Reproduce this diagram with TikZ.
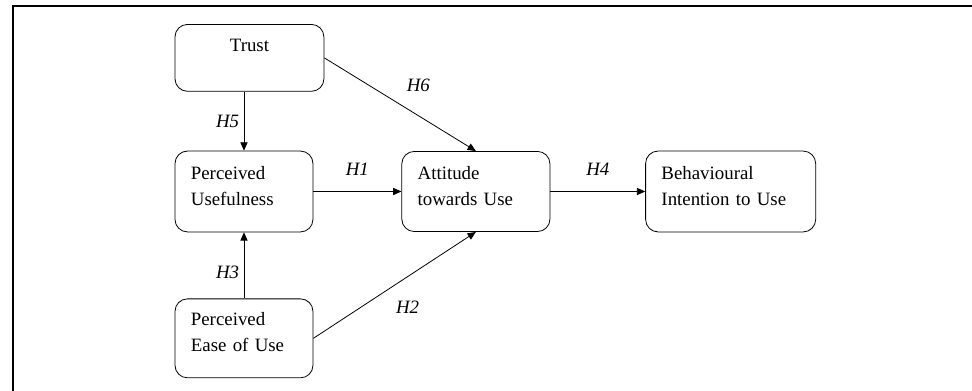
\documentclass[tikz,border=0pt]{standalone}
\usepackage{fontspec}
\setmainfont{Liberation Serif}
\usetikzlibrary{arrows.meta,positioning}

\begin{document}
\begin{tikzpicture}[
    every node/.style={font=\fontsize{14.2}{19.5}\selectfont},
    box/.style={draw, rounded corners=0.33cm, align=left, inner xsep=0.42cm, text depth=1.0cm, line width=0.6pt},
    hyp/.style={font=\fontsize{14.2}{19.5}\selectfont\itshape},
    flow/.style={-{Triangle[length=2.2mm, width=1.9mm]}, line width=0.6pt}
]
\useasboundingbox (0,0) rectangle (25.72,-10.345);
\draw[line width=1.5pt] (0.344,-10.345) |- (25.72,-0.159);

\node[box, text width=2.81cm, minimum height=2.14cm] (pu) at (6.456,-5.067) {Perceived\\Usefulness};
\node[box, align=center, text depth=, text width=3.10cm, minimum height=1.77cm, above=1.56cm of pu.north west, anchor=south west] (trust) {Trust\\\mbox{}};
\node[box, text width=2.81cm, minimum height=2.09cm, below=1.75cm of pu.south west, anchor=north west] (peou) {Perceived\\Ease of Use};
\node[box, text width=3.08cm, minimum height=2.12cm, right=2.33cm of pu] (atu) {Attitude\\towards Use};
\node[box, text width=3.66cm, minimum height=2.14cm, right=2.51cm of atu] (biu) {Behavioural\\Intention to Use};

\draw[flow] (trust.south -| pu.north) -- node[hyp, left] {H5} (pu.north);
\draw[flow] (trust.east) -- node[hyp, pos=0.62, above=0.5cm] {H6} (atu.north);
\draw[flow] (pu) -- node[hyp, above=0.3cm] {H1} (atu);
\draw[flow] (atu) -- node[hyp, above=0.3cm] {H4} (biu);
\draw[flow] (peou.north) -- node[hyp, pos=0.4, left] {H3} (pu.south);
\draw[flow] (peou.east) -- node[hyp, pos=0.58, below=0.53cm] {H2} (atu.south);
\end{tikzpicture}
\end{document}
